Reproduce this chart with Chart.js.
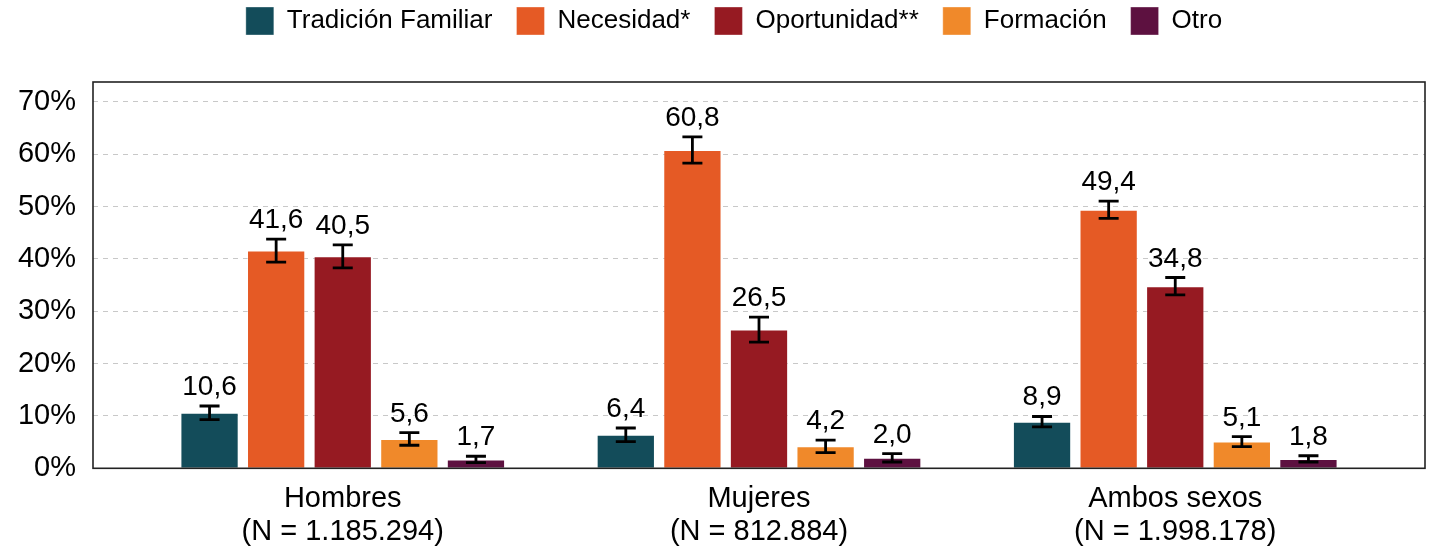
<!DOCTYPE html>
<html><head><meta charset="utf-8">
<script src="https://cdn.jsdelivr.net/npm/chart.js@4/dist/chart.umd.min.js"></script>
<style>html,body{margin:0;padding:0;background:#fff;} #wrap{width:1437px;height:548px;position:relative;}</style>
</head><body><div id="wrap"><canvas id="c"></canvas></div>
<script>
// ---- data ----
const categories = [['Hombres', '(N = 1.185.294)'], ['Mujeres', '(N = 812.884)'], ['Ambos sexos', '(N = 1.998.178)']];
const seriesNames = ['Tradición Familiar', 'Necesidad*', 'Oportunidad**', 'Formación', 'Otro'];
const tradicion   = [10.6, 6.4, 8.9];
const necesidad   = [41.6, 60.8, 49.4];
const oportunidad = [40.5, 26.5, 34.8];
const formacion   = [5.6, 4.2, 5.1];
const otro        = [1.7, 2.0, 1.8];
// half-width of the error bars (percentage points)
const tradicionErr   = [1.3, 1.3, 1.0];
const necesidadErr   = [2.2, 2.5, 1.65];
const oportunidadErr = [2.2, 2.4, 1.65];
const formacionErr   = [1.2, 1.2, 0.95];
const otroErr        = [0.6, 0.8, 0.6];
const yTicks = [0, 10, 20, 30, 40, 50, 60, 70];

// ---- styles ----
const colors = ['#134C5A', '#E55A25', '#961A22', '#F0892A', '#5D1140'];
const FONT = '"Liberation Sans", Arial, Helvetica, sans-serif';
Chart.defaults.font.family = FONT;
Chart.defaults.color = '#000';

const seriesValues = [tradicion, necesidad, oportunidad, formacion, otro];
const seriesErrors = [tradicionErr, necesidadErr, oportunidadErr, formacionErr, otroErr];

const datasets = seriesNames.map((name, i) => ({
  label: name,
  data: seriesValues[i].map((v, j) => ({x: j, y: v})),
  errors: seriesErrors[i],
  backgroundColor: colors[i],
  borderColor: 'rgba(255,255,255,0.35)',
  borderWidth: 1,
  categoryPercentage: 0.8,
  barPercentage: 0.875
}));

// empty layout box that keeps a gap between the legend and the plot
const spacerPlugin = {
  id: 'spacer',
  beforeInit(chart) {
    Chart.layouts.addBox(chart, {
      position: 'top', weight: 0, fullSize: true, options: {},
      isHorizontal() { return true; },
      update(maxWidth) { this.width = maxWidth; this.height = 37; },
      draw() {}
    });
  }
};

const framePlugin = {
  id: 'frame',
  afterDatasetsDraw(chart) {
    const {ctx, chartArea: a} = chart;
    ctx.save();
    ctx.strokeStyle = '#222';
    ctx.lineWidth = 1.6;
    ctx.strokeRect(a.left, a.top, a.right - a.left, a.bottom - a.top);
    ctx.restore();
  }
};

const errorBarPlugin = {
  id: 'errbars',
  afterDatasetsDraw(chart) {
    const ctx = chart.ctx, y = chart.scales.y;
    chart.data.datasets.forEach((ds, i) => {
      const meta = chart.getDatasetMeta(i);
      meta.data.forEach((bar, j) => {
        const v = ds.data[j].y, e = ds.errors[j];
        const yHi = y.getPixelForValue(v + e), yLo = y.getPixelForValue(v - e);
        ctx.save();
        ctx.strokeStyle = '#000';
        ctx.lineWidth = 2.8;
        ctx.beginPath();
        ctx.moveTo(bar.x, yHi); ctx.lineTo(bar.x, yLo);
        ctx.moveTo(bar.x - 10, yHi); ctx.lineTo(bar.x + 10, yHi);
        ctx.moveTo(bar.x - 10, yLo); ctx.lineTo(bar.x + 10, yLo);
        ctx.stroke();
        ctx.fillStyle = '#000';
        ctx.font = '28px ' + FONT;
        ctx.textAlign = 'center';
        ctx.textBaseline = 'alphabetic';
        ctx.fillText(v.toFixed(1).replace('.', ','), bar.x, yHi - 11);
        ctx.restore();
      });
    });
  }
};

new Chart(document.getElementById('c'), {
  type: 'bar',
  data: {datasets},
  options: {
    responsive: true,
    maintainAspectRatio: false,
    animation: false,
    layout: {padding: {top: -17, left: 0, right: -31, bottom: -15}},
    plugins: {
      legend: {
        position: 'top',
        labels: {boxWidth: 28, boxHeight: 28, padding: 24, font: {size: 26}, color: '#000'}
      },
      tooltip: {enabled: false}
    },
    scales: {
      x: {
        type: 'linear',
        min: -0.6, max: 2.6,
        offset: false,
        grid: {display: false, drawTicks: false},
        border: {display: false},
        afterBuildTicks: (s) => { s.ticks = categories.map((c, i) => ({value: i})); },
        afterFit: (s) => { s.paddingRight = 12; s.paddingLeft = 0; },
        ticks: {
          autoSkip: false, maxRotation: 0, padding: 14,
          font: {size: 29, lineHeight: 1.15}, color: '#000',
          callback: (v) => categories[v]
        }
      },
      y: {
        min: 0, max: 73.8,
        grid: {color: '#c8c8c8', lineWidth: 1, drawTicks: false},
        border: {display: false, dash: [5, 5]},
        afterBuildTicks: (s) => { s.ticks = yTicks.map(v => ({value: v})); },
        afterFit: (s) => { s.width = 93; },
        ticks: {padding: 17, font: {size: 29}, color: '#000', callback: (v) => v + '%'}
      }
    }
  },
  plugins: [spacerPlugin, framePlugin, errorBarPlugin]
});
</script>
</body></html>
